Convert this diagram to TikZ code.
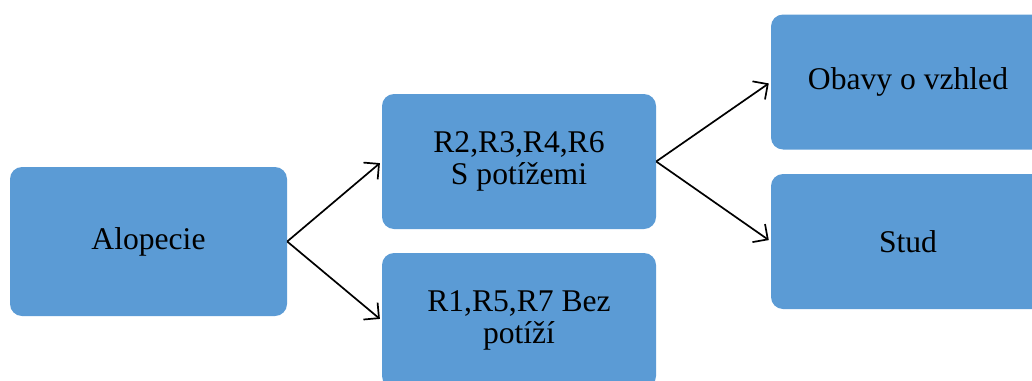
\documentclass[tikz,border=0pt]{standalone}
\usepackage{fontspec}
\setmainfont{Liberation Serif}
\usetikzlibrary{arrows.meta}
\definecolor{boxblue}{HTML}{5B9BD5}
\tikzset{
  box/.style={fill=boxblue, rounded corners=12pt, minimum width=274pt, minimum height=135pt,
    align=center, inner sep=0pt, font=\fontsize{31.6}{32}\selectfont},
  link/.style={-{Straight Barb[length=11pt,width=22pt,line width=1.7pt]}, line width=1.7pt, shorten >=2.5pt}
}
\begin{document}
\begin{tikzpicture}[x=1pt,y=-1pt]
  \useasboundingbox (0,0) rectangle (1032,380);
  \clip (0,0) rectangle (1032,380);
  % tree of boxes
  \node[box, minimum width=277pt, minimum height=149pt] (alo) at (148.5,241.5) {Alopecie};
  \node[box] (spot) at (519,161.5) {R2,R3,R4,R6\\S potížemi};
  \node[box] (bez) at (519,320.5) {R1,R5,R7 Bez\\potíží};
  \node[box] (obavy) at (908,82) {Obavy o vzhled};
  \node[box] (stud) at (908,241.5) {Stud};
  % links
  \draw[link] (alo.east) -- (spot.west);
  \draw[link] (alo.east) -- (bez.west);
  \draw[link] (spot.east) -- (obavy.west);
  \draw[link] (spot.east) -- (stud.west);
\end{tikzpicture}
\end{document}
